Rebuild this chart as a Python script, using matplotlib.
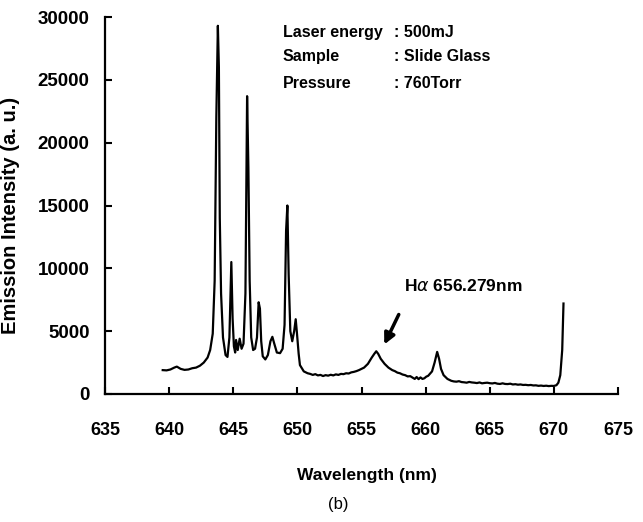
import matplotlib
matplotlib.use("Agg")
import matplotlib.pyplot as plt

wavelength = [639.5, 639.8, 640.1, 640.4, 640.6, 640.9, 641.2, 641.5, 641.8, 642.1,
              642.4, 642.7, 643.0, 643.2, 643.4, 643.55, 643.68, 643.8, 643.88, 643.95,
              644.05, 644.2, 644.4, 644.55, 644.7, 644.85, 644.95, 645.05, 645.15, 645.22,
              645.35, 645.5, 645.65, 645.8, 645.95, 646.08, 646.18, 646.28, 646.4, 646.55,
              646.7, 646.85, 646.98, 647.08, 647.18, 647.3, 647.5, 647.7, 647.9, 648.05,
              648.2, 648.4, 648.65, 648.85, 649.0, 649.12, 649.22, 649.32, 649.45, 649.6,
              649.75, 649.87, 649.97, 650.1, 650.2, 650.5, 650.8, 651.0, 651.2, 651.4,
              651.6, 651.8, 652.0, 652.2, 652.4, 652.6, 652.8, 653.0, 653.2, 653.4,
              653.6, 653.8, 654.0, 654.2, 654.4, 654.6, 654.8, 655.0, 655.2, 655.5,
              655.8, 656.0, 656.15, 656.3, 656.5, 656.8, 657.1, 657.4, 657.6, 657.8,
              658.0, 658.2, 658.4, 658.6, 658.8, 659.0, 659.15, 659.3, 659.45, 659.6,
              659.75, 659.9, 660.05, 660.2, 660.5, 660.7, 660.9, 661.05, 661.2, 661.4,
              661.7, 662.0, 662.2, 662.4, 662.6, 662.8, 663.0, 663.2, 663.4, 663.6,
              663.8, 664.0, 664.2, 664.4, 664.6, 664.8, 665.0, 665.2, 665.4, 665.6,
              665.8, 666.0, 666.2, 666.4, 666.6, 666.8, 667.0, 667.2, 667.4, 667.6,
              667.8, 668.0, 668.2, 668.4, 668.6, 668.8, 669.0, 669.2, 669.4, 669.6,
              669.8, 670.0, 670.2, 670.35, 670.5, 670.65, 670.75]
intensity = [1900, 1880, 1950, 2100, 2180, 2000, 1920, 1950, 2050, 2100,
             2250, 2500, 2900, 3500, 4800, 9000, 22000, 29300, 26000, 14000,
             8000, 4500, 3100, 2950, 4500, 10500, 6000, 3800, 3300, 4300,
             3500, 4400, 3600, 4000, 8000, 23700, 18000, 9000, 4500, 3500,
             3600, 4500, 7300, 6800, 4200, 3000, 2750, 3100, 4200, 4550,
             4000, 3300, 3250, 3600, 5500, 13000, 15000, 9500, 5000, 4200,
             5000, 5950, 4800, 3200, 2300, 1800, 1650, 1600, 1520, 1580,
             1480, 1520, 1430, 1500, 1460, 1530, 1480, 1560, 1520, 1600,
             1580, 1650, 1630, 1720, 1760, 1820, 1900, 2000, 2100, 2400,
             2900, 3200, 3400, 3200, 2800, 2400, 2100, 1900, 1820, 1700,
             1650, 1550, 1500, 1400, 1420, 1300, 1200, 1350, 1180, 1320,
             1200, 1250, 1380, 1450, 1800, 2500, 3350, 2800, 2000, 1500,
             1200, 1050, 1000, 980, 1020, 950, 930, 900, 960, 920,
             900, 870, 920, 850, 880, 900, 860, 840, 880, 820,
             800, 850, 800, 790, 820, 760, 780, 740, 760, 720,
             730, 700, 720, 680, 690, 650, 670, 640, 660, 630,
             650, 640, 700, 900, 1500, 3500, 7200]

x_ticks = [635, 640, 645, 650, 655, 660, 665, 670, 675]
y_ticks = [0, 5000, 10000, 15000, 20000, 25000, 30000]

info_labels = ["Laser energy", "Sample", "Pressure"]
info_values = ["500mJ", "Slide Glass", "760Torr"]

FONT = ["Liberation Sans", "DejaVu Sans"]
plt.rcParams["font.family"] = FONT

fig = plt.figure(figsize=(6.43, 5.22), dpi=100)
ax = fig.add_axes([105/643, 1 - 394/522, (618-105)/643, (394-17)/522])

ax.plot(wavelength, intensity, color="black", lw=1.6)

ax.set_xlim(635, 675)
ax.set_ylim(0, 30000)
ax.set_xticks(x_ticks)
ax.set_yticks(y_ticks)
ax.set_xticklabels([str(v) for v in x_ticks], fontsize=13, fontweight="bold")
ax.set_yticklabels([str(v) for v in y_ticks], fontsize=13.5, fontweight="bold")
ax.tick_params(axis="both", direction="in", length=5, width=1.5)
ax.tick_params(axis="x", pad=20)
ax.tick_params(axis="y", pad=11)
for s in ["top", "right"]:
    ax.spines[s].set_visible(False)
for s in ["left", "bottom"]:
    ax.spines[s].set_linewidth(1.6)

ax.set_xlabel("Wavelength (nm)", fontsize=12.5, fontweight="bold")
ax.xaxis.set_label_coords((367-105)/(618-105), -(468-394)/377)
ax.set_ylabel("Emission Intensity (a. u.)", fontsize=14.5, fontweight="bold")
ax.yaxis.set_label_coords((20-105)/513, (394-215)/377)

ys = [28800, 26820, 24670]
for lab, val, yv in zip(info_labels, info_values, ys):
    ax.text(648.88, yv, lab, fontsize=11.5, fontweight="bold", va="center", ha="left")
    ax.text(657.5, yv, ": " + val, fontsize=11.5, fontweight="bold", va="center", ha="left")

ax.annotate("", xy=(656.68, 3740), xytext=(658.0, 6525),
            arrowprops=dict(arrowstyle="-|>", color="black", lw=2.5, mutation_scale=16))
ax.text(658.3, 8590, "H$\\alpha$ 656.279nm", fontsize=12.5, fontweight="bold", va="center", ha="left")

fig.text(338/643, 1 - 504/522, "(b)", fontsize=12, ha="center", va="center")

fig.savefig("out.png", dpi=100)
